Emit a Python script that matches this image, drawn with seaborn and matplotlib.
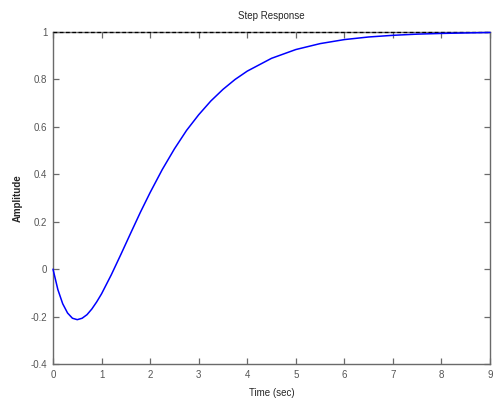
import matplotlib
matplotlib.use("Agg")
import matplotlib.pyplot as plt
import seaborn as sns
import pandas as pd

time_sec = [0, 0.1, 0.2, 0.3, 0.4, 0.5, 0.6, 0.7, 0.8, 0.9, 1.0, 1.2, 1.4, 1.6, 1.8,
            2.0, 2.25, 2.5, 2.75, 3.0, 3.25, 3.5, 3.75, 4.0, 4.5, 5.0, 5.5, 6.0,
            6.5, 7.0, 7.5, 8.0, 8.5, 9.0]
amplitude = [0, -0.086, -0.146, -0.185, -0.207, -0.213, -0.207, -0.192, -0.168, -0.138,
             -0.104, -0.024, 0.063, 0.152, 0.240, 0.323, 0.420, 0.507, 0.585, 0.651,
             0.709, 0.758, 0.800, 0.835, 0.889, 0.926, 0.951, 0.968, 0.979, 0.986,
             0.991, 0.994, 0.996, 0.998]
final_value = 1.0
x_ticks = [0, 1, 2, 3, 4, 5, 6, 7, 8, 9]
y_ticks = [-0.4, -0.2, 0, 0.2, 0.4, 0.6, 0.8, 1]
y_tick_labels = ["-0.4", "-0.2", "0", "0.2", "0.4", "0.6", "0.8", "1"]

sns.set_theme(style="white")
plt.rcParams['font.family'] = ['Liberation Sans', 'DejaVu Sans']

df = pd.DataFrame({"Time (sec)": time_sec, "Amplitude": amplitude})

fig = plt.figure(figsize=(4.93, 3.98), dpi=100)
ax = fig.add_axes([0.1075, 0.0854, 0.8865, 0.8342])

ax.axhline(final_value, color="black", linestyle=(0, (3, 2)), linewidth=0.9,
           zorder=3, clip_on=False)
sns.lineplot(data=df, x="Time (sec)", y="Amplitude", ax=ax, color="#0000ff",
             linewidth=1.1, zorder=4, clip_on=False)

ax.set_xlim(0, 9)
ax.set_ylim(-0.4, 1)
ax.set_xticks(x_ticks)
ax.set_yticks(y_ticks)
ax.set_yticklabels(y_tick_labels)

for s in ax.spines.values():
    s.set_color("#6a6a6a")
    s.set_linewidth(1.0)
ax.tick_params(direction="in", length=4, width=0.9, color="#6a6a6a",
               labelsize=7, labelcolor="#555555", top=True, right=True,
               bottom=True, left=True, pad=4)

ax.set_xlabel("Time (sec)", fontsize=7, labelpad=6)
ax.set_ylabel("Amplitude", fontsize=7, fontweight="bold", labelpad=6)
ax.set_title("Step Response", fontsize=7, pad=9)

fig.savefig("out.png", dpi=100)
